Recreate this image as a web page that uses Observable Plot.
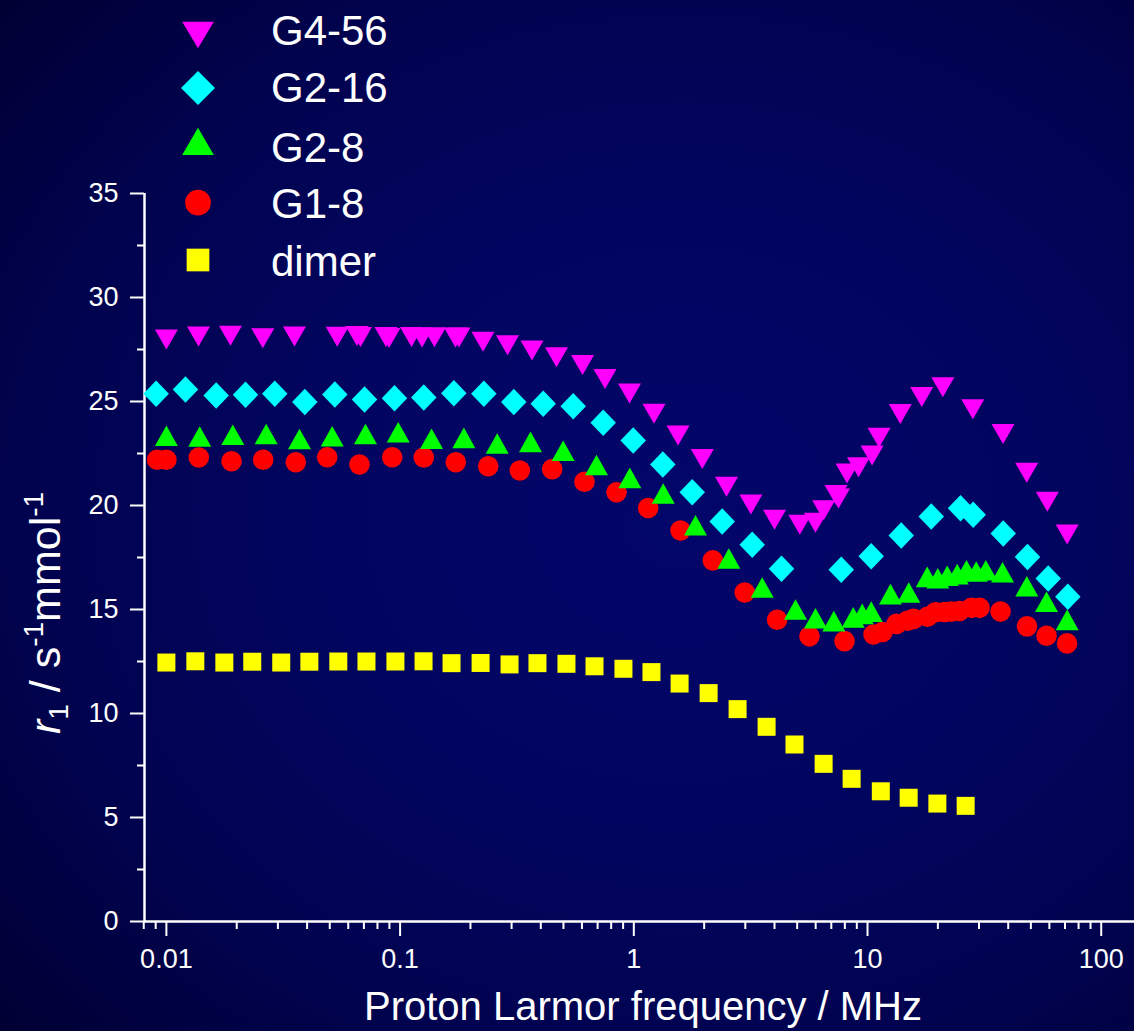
<!DOCTYPE html>
<html><head><meta charset="utf-8">
<script src="https://cdn.jsdelivr.net/npm/d3@7"></script>
<script src="https://cdn.jsdelivr.net/npm/@observablehq/plot@0.6"></script>
<style>
html,body{margin:0;padding:0;}
body{width:1134px;height:1031px;overflow:hidden;
  background: radial-gradient(ellipse 80% 75% at 60% 50%, #03066a 0%, #02055f 40%, #010350 70%, #000034 100%);}
#chart{position:relative;width:1134px;height:1031px;}
</style></head><body><div id="chart"></div>
<script>
// ---- data ----
const seriesNames = ["G4-56", "G2-16", "G2-8", "G1-8", "dimer"];
const seriesColors = ["#ff00ff", "#00ffff", "#00ff00", "#ff0000", "#ffff00"];

const g456X = [0.0100, 0.01372, 0.01880, 0.02585, 0.03532, 0.05381, 0.06538, 0.06769, 0.08703, 0.08964, 0.1119, 0.1241, 0.1403, 0.1726, 0.1786, 0.2263, 0.2881, 0.3668, 0.4669, 0.6034, 0.7530, 0.9585, 1.220, 1.546, 1.964, 2.493, 3.170, 4.000, 5.132, 5.99, 6.494, 7.332, 7.515, 8.172, 9.151, 10.46, 11.20, 13.81, 17.06, 21.00, 28.22, 38.00, 48.0, 58.8, 71.5];
const g456Y = [27.98, 28.13, 28.16, 28.04, 28.13, 28.11, 28.15, 28.10, 28.10, 28.05, 28.10, 28.08, 28.09, 28.08, 28.08, 27.87, 27.70, 27.45, 27.13, 26.75, 26.08, 25.39, 24.41, 23.37, 22.23, 20.90, 20.05, 19.31, 19.08, 19.17, 19.77, 20.50, 20.34, 21.54, 21.84, 22.40, 23.26, 24.40, 25.22, 25.69, 24.63, 23.44, 21.57, 20.18, 18.60];

const g216X = [0.00904, 0.01207, 0.01633, 0.02181, 0.02909, 0.03911, 0.05256, 0.07043, 0.09463, 0.1263, 0.1698, 0.2282, 0.3065, 0.4096, 0.5504, 0.7397, 0.9941, 1.331, 1.778, 2.389, 3.211, 4.286, 7.718, 10.37, 13.94, 18.74, 25.00, 28.33, 38.08, 48.38, 59.32, 71.97];
const g216Y = [25.37, 25.58, 25.29, 25.32, 25.37, 24.97, 25.34, 25.10, 25.16, 25.19, 25.40, 25.37, 24.97, 24.89, 24.77, 23.98, 23.13, 21.97, 20.64, 19.23, 18.11, 16.96, 16.91, 17.56, 18.56, 19.47, 19.87, 19.55, 18.65, 17.53, 16.49, 15.61];

const g28X = [0.0100, 0.01389, 0.01924, 0.02673, 0.03711, 0.05123, 0.07111, 0.09815, 0.1363, 0.1874, 0.2603, 0.3614, 0.4985, 0.6925, 0.9614, 1.336, 1.837, 2.550, 3.543, 4.920, 5.992, 7.175, 8.686, 9.491, 10.37, 12.54, 15.02, 18.01, 19.99, 21.93, 24.20, 26.52, 29.18, 32.08, 37.82, 48.05, 58.34, 71.5];
const g28Y = [23.35, 23.32, 23.40, 23.44, 23.20, 23.33, 23.44, 23.52, 23.21, 23.25, 22.98, 23.06, 22.63, 21.95, 21.33, 20.58, 19.05, 17.45, 16.06, 15.00, 14.58, 14.44, 14.62, 14.79, 14.90, 15.74, 15.82, 16.57, 16.50, 16.62, 16.70, 16.89, 16.83, 16.89, 16.79, 16.12, 15.37, 14.50];

const g18X = [0.00913, 0.0100, 0.01376, 0.01900, 0.02595, 0.03579, 0.04876, 0.06702, 0.09252, 0.1263, 0.1731, 0.2382, 0.3253, 0.4474, 0.6152, 0.8433, 1.152, 1.584, 2.178, 2.982, 4.105, 5.646, 7.972, 10.61, 11.59, 13.31, 14.83, 15.73, 18.06, 19.54, 21.36, 22.88, 24.76, 27.86, 30.15, 37.08, 48.14, 58.34, 71.41];
const g18Y = [22.20, 22.20, 22.31, 22.13, 22.20, 22.08, 22.32, 21.97, 22.32, 22.31, 22.08, 21.89, 21.68, 21.75, 21.14, 20.64, 19.88, 18.80, 17.36, 15.82, 14.51, 13.71, 13.48, 13.80, 13.92, 14.31, 14.46, 14.55, 14.65, 14.87, 14.88, 14.90, 14.93, 15.08, 15.08, 14.90, 14.19, 13.74, 13.37];

const dimerX = [0.0100, 0.0133, 0.0177, 0.0233, 0.0310, 0.0409, 0.0544, 0.0718, 0.0955, 0.126, 0.166, 0.221, 0.294, 0.387, 0.515, 0.679, 0.903, 1.19, 1.57, 2.09, 2.78, 3.70, 4.87, 6.49, 8.55, 11.4, 15.0, 19.9, 26.3];
const dimerY = [12.45, 12.51, 12.45, 12.49, 12.45, 12.49, 12.50, 12.50, 12.50, 12.51, 12.42, 12.43, 12.36, 12.42, 12.39, 12.27, 12.15, 11.99, 11.44, 10.98, 10.21, 9.36, 8.51, 7.58, 6.86, 6.26, 5.95, 5.67, 5.56];

const xDomain = [0.00806, 138.8];
const yDomain = [0, 35];
const xMajorTicks = [0.01, 0.1, 1, 10, 100];
const xMajorLabels = ["0.01", "0.1", "1", "10", "100"];
const xMinorTicks = [0.008, 0.009, 0.02, 0.03, 0.04, 0.05, 0.06, 0.07, 0.08, 0.09, 0.2, 0.3, 0.4, 0.5, 0.6, 0.7, 0.8, 0.9, 2, 3, 4, 5, 6, 7, 8, 9, 20, 30, 40, 50, 60, 70, 80, 90];
const yMajorTicks = [0, 5, 10, 15, 20, 25, 30, 35];
const yMinorTicks = [2.5, 7.5, 12.5, 17.5, 22.5, 27.5, 32.5];

// ---- symbols ----
function makeSym(kind, s) {
  return {draw(ctx) {
    if (kind === "down") { ctx.moveTo(-s.w/2, -s.h/2); ctx.lineTo(s.w/2, -s.h/2); ctx.lineTo(0, s.h/2); ctx.closePath(); }
    else if (kind === "up") { ctx.moveTo(0, -s.h/2); ctx.lineTo(s.w/2, s.h/2); ctx.lineTo(-s.w/2, s.h/2); ctx.closePath(); }
    else if (kind === "diamond") { ctx.moveTo(0, -s.h/2); ctx.lineTo(s.w/2, 0); ctx.lineTo(0, s.h/2); ctx.lineTo(-s.w/2, 0); ctx.closePath(); }
    else if (kind === "circle") { ctx.moveTo(s.w/2, 0); ctx.arc(0, 0, s.w/2, 0, 2*Math.PI); ctx.closePath(); }
    else if (kind === "square") { ctx.rect(-s.w/2, -s.h/2, s.w, s.h); }
  }};
}
const kinds = ["down", "diamond", "up", "circle", "square"];
const dataSizes = [{w:23,h:20},{w:25.5,h:26.5},{w:23,h:20.6},{w:20.6,h:20.6},{w:18,h:18}];
const legendSizes = [{w:31.7,h:26.7},{w:34,h:34},{w:31.7,h:27.3},{w:25.7,h:25.7},{w:22.7,h:22.7}];

const table = (xs, ys) => xs.map((x, i) => ({x, y: ys[i]}));
const seriesData = [table(g456X, g456Y), table(g216X, g216Y), table(g28X, g28Y), table(g18X, g18Y), table(dimerX, dimerY)];

const font = "'Liberation Sans', Arial, sans-serif";
const drawOrder = [4, 3, 2, 1, 0];

const plot = Plot.plot({
  width: 1134, height: 1031,
  marginLeft: 144, marginRight: 0, marginTop: 193, marginBottom: 110,
  style: {background: "transparent", color: "white", fontFamily: font, fontSize: "27px", overflow: "visible"},
  x: {type: "log", domain: xDomain},
  y: {domain: yDomain},
  marks: [
    Plot.axisY(yMinorTicks, {tickSize: 7, strokeWidth: 2, tickFormat: () => "", label: null}),
    Plot.axisY(yMajorTicks, {tickSize: 14, tickPadding: 12, strokeWidth: 2, label: null, tickFormat: d => String(d)}),
    Plot.axisX(xMinorTicks, {tickSize: 8, strokeWidth: 2, tickFormat: () => "", label: null}),
    Plot.axisX(xMajorTicks, {tickSize: 15, tickPadding: 12, strokeWidth: 2, label: null, tickFormat: d => xMajorLabels[xMajorTicks.indexOf(d)]}),
    Plot.ruleY([0], {stroke: "white", strokeWidth: 2.5}),
    Plot.ruleX([xDomain[0]], {stroke: "white", strokeWidth: 2.5}),
    ...drawOrder.map(i => Plot.dot(seriesData[i], {x: "x", y: "y", r: 5, symbol: makeSym(kinds[i], dataSizes[i]), fill: seriesColors[i], stroke: "none"}))
  ]
});
document.getElementById("chart").appendChild(plot);

const svg = d3.select(plot);
// x axis title
svg.append("text").attr("x", 643).attr("y", 1020).attr("text-anchor", "middle")
  .attr("font-family", font).attr("font-size", 40).attr("fill", "white")
  .text("Proton Larmor frequency / MHz");

// y axis title
const yt = svg.append("text").attr("transform", "translate(60,613) rotate(-90)")
  .attr("text-anchor", "middle").attr("font-family", font).attr("font-size", 43).attr("fill", "white");
yt.append("tspan").attr("font-style", "italic").text("r");
yt.append("tspan").attr("font-size", 28).attr("dy", 8).text("1");
yt.append("tspan").attr("dy", -8).text(" / s");
yt.append("tspan").attr("font-size", 28).attr("dy", -17).text("-1");
yt.append("tspan").attr("dy", 17).text("mmol");
yt.append("tspan").attr("font-size", 28).attr("dy", -17).text("-1");

// legend
const legendMarkerY = [35, 88, 141.3, 202.7, 260];
const legendTextY = [45, 101.7, 161.7, 218.3, 276];
const lg = svg.append("g");
seriesNames.forEach((name, i) => {
  const p = d3.path();
  makeSym(kinds[i], legendSizes[i]).draw(p);
  lg.append("path").attr("d", p.toString()).attr("transform", `translate(198,${legendMarkerY[i]})`).attr("fill", seriesColors[i]);
  lg.append("text").attr("x", 271).attr("y", legendTextY[i]).attr("text-anchor", "start").attr("font-family", font).attr("font-size", 42)
    .attr("fill", "white").text(name);
});
</script>
</body></html>
